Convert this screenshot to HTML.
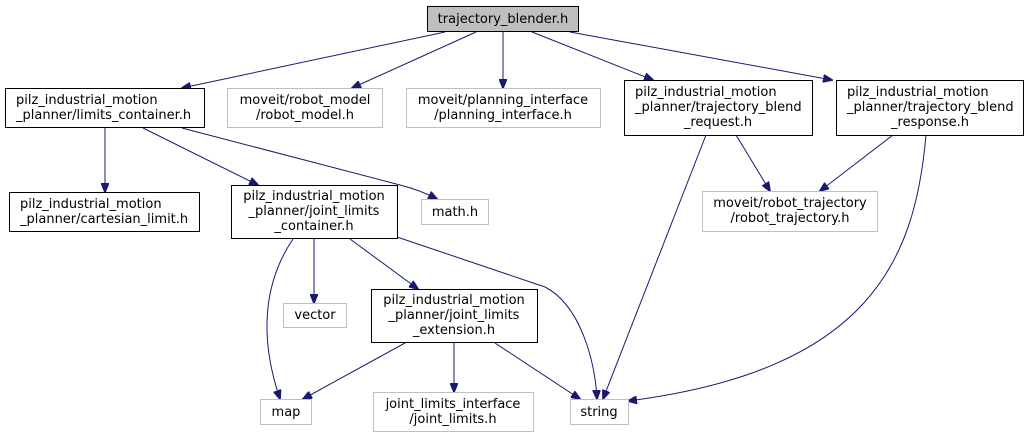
<!DOCTYPE html>
<html><head><meta charset="utf-8"><style>
html,body{margin:0;padding:0;background:#fff;}
svg{display:block;}
text{font-family:"DejaVu Sans","Liberation Sans",sans-serif;font-size:13px;fill:#000;}
.b{fill:#fff;stroke:#000;stroke-width:1;}
.g{fill:#fff;stroke:#bfbfbf;stroke-width:1;}
.e{fill:none;stroke:#191970;stroke-width:1;marker-end:url(#a);}
</style></head><body>
<svg width="1029" height="439" viewBox="0 0 1029 439">
<defs><marker id="a" markerWidth="10" markerHeight="8" refX="9" refY="4" orient="auto" markerUnits="userSpaceOnUse"><path d="M0,0 L10,4 L0,8 Z" fill="#191970" stroke="#191970"/></marker></defs>

<g class="e">
<path d="M445,32 L182,88"/>
<path d="M476,32 L352,88"/>
<path d="M503,32 L503,88"/>
<path d="M532,32 L653,80"/>
<path d="M570,32 L832,80"/>
<path d="M105,128 L105,192"/>
<path d="M143,128 L258,185"/>
<path d="M182,128 L400,185 Q420,190 437,199"/>
<path d="M293,239 C262,285 260,340 280,399"/>
<path d="M314,239 L314,303"/>
<path d="M350,239 L418,289"/>
<path d="M397,237 L545,287 C580,305 595,360 597,399"/>
<path d="M405,343 L303,399"/>
<path d="M454,343 L454,392"/>
<path d="M495,343 L580,399"/>
<path d="M706,135 L603,399"/>
<path d="M736,135 L770,191"/>
<path d="M893,135 L820,191"/>
<path d="M926,135 C915,260 870,370 628,401"/>
</g>

<rect x="427.5" y="6.5" width="151" height="25" fill="#bfbfbf" stroke="#000"/>
<text x="503" y="23" text-anchor="middle">trajectory_blender.h</text>

<rect class="b" x="5.5" y="88.5" width="199" height="39"/>
<text x="16" y="104">pilz_industrial_motion</text>
<text x="16" y="119">_planner/limits_container.h</text>

<rect class="g" x="227.5" y="88.5" width="155" height="39"/>
<text x="305" y="104" text-anchor="middle">moveit/robot_model</text>
<text x="305" y="119" text-anchor="middle">/robot_model.h</text>

<rect class="g" x="406.5" y="88.5" width="194" height="39"/>
<text x="503" y="104" text-anchor="middle">moveit/planning_interface</text>
<text x="503" y="119" text-anchor="middle">/planning_interface.h</text>

<rect class="b" x="624.5" y="80.5" width="188" height="55"/>
<text x="635" y="96">pilz_industrial_motion</text>
<text x="635" y="111">_planner/trajectory_blend</text>
<text x="718" y="126" text-anchor="middle">_request.h</text>

<rect class="b" x="836.5" y="80.5" width="187" height="55"/>
<text x="847" y="96">pilz_industrial_motion</text>
<text x="847" y="111">_planner/trajectory_blend</text>
<text x="930" y="126" text-anchor="middle">_response.h</text>

<rect class="b" x="9.5" y="192.5" width="190" height="39"/>
<text x="20" y="208">pilz_industrial_motion</text>
<text x="20" y="223">_planner/cartesian_limit.h</text>

<rect class="b" x="231.5" y="185.5" width="166" height="53"/>
<text x="314" y="200" text-anchor="middle">pilz_industrial_motion</text>
<text x="314" y="215" text-anchor="middle">_planner/joint_limits</text>
<text x="314" y="230" text-anchor="middle">_container.h</text>

<rect class="g" x="421.5" y="199.5" width="67" height="25"/>
<text x="455" y="216" text-anchor="middle">math.h</text>

<rect class="g" x="702.5" y="191.5" width="175" height="40"/>
<text x="790" y="207" text-anchor="middle">moveit/robot_trajectory</text>
<text x="790" y="222" text-anchor="middle">/robot_trajectory.h</text>

<rect class="g" x="283.5" y="303.5" width="63" height="24"/>
<text x="315" y="319" text-anchor="middle">vector</text>

<rect class="b" x="371.5" y="289.5" width="166" height="53"/>
<text x="454" y="304" text-anchor="middle">pilz_industrial_motion</text>
<text x="454" y="319" text-anchor="middle">_planner/joint_limits</text>
<text x="454" y="334" text-anchor="middle">_extension.h</text>

<rect class="g" x="260.5" y="399.5" width="51" height="25"/>
<text x="286" y="416" text-anchor="middle">map</text>

<rect class="g" x="373.5" y="392.5" width="160" height="39"/>
<text x="453" y="408" text-anchor="middle">joint_limits_interface</text>
<text x="453" y="423" text-anchor="middle">/joint_limits.h</text>

<rect class="g" x="570.5" y="399.5" width="58" height="25"/>
<text x="599" y="416" text-anchor="middle">string</text>
</svg>
</body></html>
